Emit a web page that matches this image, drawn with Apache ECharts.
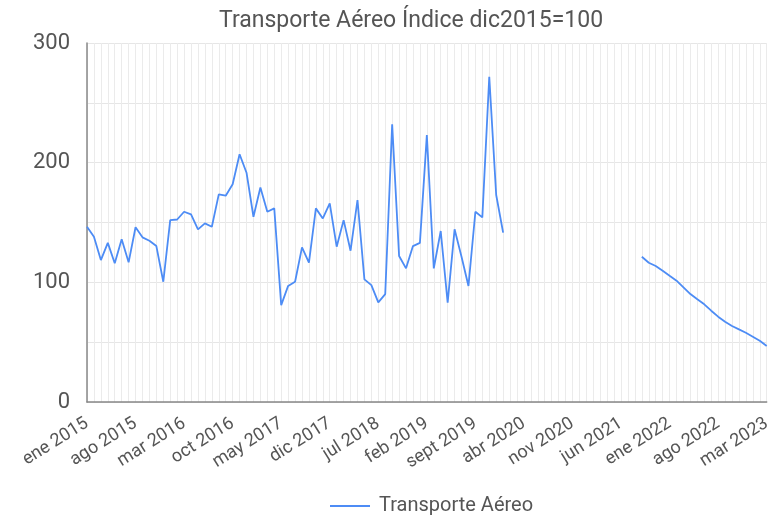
<!DOCTYPE html>
<html>
<head>
<meta charset="utf-8">
<script src="https://cdn.jsdelivr.net/npm/echarts@6/dist/echarts.min.js"></script>
<style>html,body{margin:0;padding:0;background:#fff}#c{width:774px;height:518px}</style>
</head>
<body>
<div id="c"></div>
<script>
var monthNames = ['ene','feb','mar','abr','may','jun','jul','ago','sept','oct','nov','dic'];
var years = [2015,2016,2017,2018,2019,2020,2021,2022,2023];
var categories = [];
years.forEach(function(y){ monthNames.forEach(function(m){ categories.push(m + ' ' + y); }); });
categories = categories.slice(0, 99); // ene 2015 .. mar 2023

var values2015_2017 = [146.5,138,118.6,133,116,136,116.7,146,137.6,134.8,130.3,100.5,
  152,152.5,159,156.8,144.3,149.3,146.5,173.5,172.4,182,207,191.6,
  154.8,179.3,159,161.8,81,97,100.5,129.2,116.4,161.8,153.4,166];
var values2018_2020 = [129.8,152,126.4,168.8,102.5,97.7,83.3,90.2,232,122,111.7,130.3,
  133,223,111.7,142.9,83,144.3,121.4,97,159,154.3,271.8,173,
  141.5];
var gapValues = [null,null,null,null,null,null,null,null,null,null,null,null,null,null,null,null,null,null,null];
var values2021_2023 = [121.4,116.4,113.6,109.7,105.5,101.4,95.8,90.2,85.8,81.6,76.3,71.3,67.1,63.5,60.7,57.9,54.6,51.2,46.8];
var seriesValues = values2015_2017.concat(values2018_2020, gapValues, values2021_2023);

var chart = echarts.init(document.getElementById('c'));
chart.setOption({
  animation: false,
  textStyle: { fontFamily: 'Roboto' },
  title: {
    text: 'Transporte Aéreo Índice dic2015=100',
    left: 214, top: 5,
    textStyle: { fontSize: 23, fontWeight: 'normal', color: '#555', fontFamily: 'Roboto' }
  },
  legend: {
    left: 325, top: 491,
    icon: 'rect',
    itemWidth: 40, itemHeight: 2, itemGap: 8,
    textStyle: { fontSize: 20, color: '#555', fontFamily: 'Roboto', padding: [0, 0, 0, 4] },
    data: ['Transporte Aéreo']
  },
  grid: { left: 87, right: 4, top: 43, bottom: 116, containLabel: false },
  xAxis: {
    type: 'category',
    data: categories,
    boundaryGap: false,
    axisLine: { show: true, lineStyle: { color: '#888', width: 1.5 } },
    axisTick: { show: false },
    splitLine: { show: true, interval: 0, lineStyle: { color: '#ebebeb', width: 1 } },
    axisLabel: { interval: 6, rotate: 32, fontSize: 18, color: '#555', margin: 20, fontFamily: 'Roboto' }
  },
  yAxis: {
    type: 'value',
    min: 0, max: 300, interval: 50,
    axisLine: { show: true, lineStyle: { color: '#888', width: 1.5 } },
    axisTick: { show: false },
    splitLine: { show: true, lineStyle: { color: '#e6e6e6', width: 1 } },
    axisLabel: {
      fontSize: 22, color: '#555', margin: 17, fontFamily: 'Roboto',
      formatter: function(v){ return v % 100 === 0 ? String(v) : ''; }
    }
  },
  series: [{
    name: 'Transporte Aéreo',
    type: 'line',
    data: seriesValues,
    symbol: 'none',
    connectNulls: false,
    lineStyle: { color: '#4d8cf5', width: 1.8 },
    itemStyle: { color: '#4d8cf5' }
  }]
});
</script>
</body>
</html>
